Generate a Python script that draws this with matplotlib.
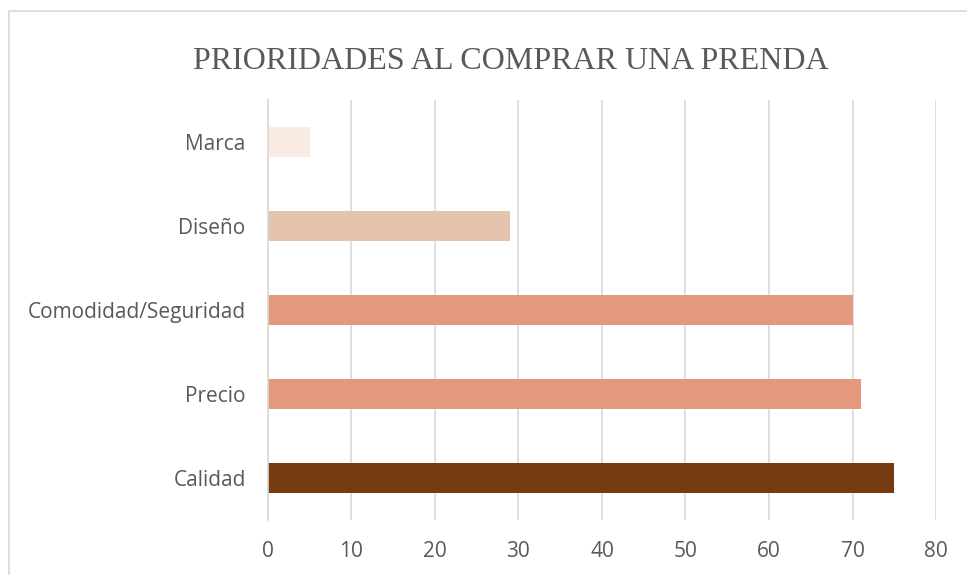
import matplotlib.pyplot as plt
from matplotlib.patches import Rectangle

# datos
categorias = ['Calidad', 'Precio', 'Comodidad/Seguridad', 'Diseño', 'Marca']
valores = [75, 71, 70, 29, 5]
colores = ['#773B11', '#E4987D', '#E4987D', '#E5C4AE', '#FBECE3']
ticks_x = [0, 10, 20, 30, 40, 50, 60, 70, 80]

gris_texto = '#595959'

fig = plt.figure(figsize=(9.67, 5.75), dpi=100)
ax = fig.add_axes([0.277, 0.0957, 0.691, 0.730])

ax.barh(range(len(categorias)), valores, height=0.36, color=colores, zorder=3)

ax.set_xlim(0, 80)
ax.set_ylim(-0.5, len(categorias) - 0.5)
ax.set_xticks(ticks_x)
ax.set_yticks(range(len(categorias)))
ax.set_yticklabels(categorias)

for lab in ax.get_xticklabels() + ax.get_yticklabels():
    lab.set_fontfamily('Open Sans')
    lab.set_fontsize(15)
    lab.set_color(gris_texto)

ax.tick_params(axis='both', length=0)
ax.tick_params(axis='x', pad=15)
ax.tick_params(axis='y', pad=16)
ax.grid(axis='x', color='#D9D9D9', linewidth=1.2, zorder=0)
for s in ['top', 'right', 'bottom']:
    ax.spines[s].set_visible(False)
ax.spines['left'].set_color('#D9D9D9')
ax.spines['left'].set_linewidth(1.2)
ax.spines['left'].set_zorder(4)

fig.text(0.528, 0.893, 'PRIORIDADES AL COMPRAR UNA PRENDA', ha='center', va='center',
         fontfamily='Liberation Serif', fontsize=23, color=gris_texto)

# borde del area del grafico
fig.patches.append(Rectangle((9 / 967, -0.02), 1.1, 1 - 11 / 575 + 0.02,
                             transform=fig.transFigure, fill=False,
                             edgecolor='#D9D9D9', linewidth=1.2))

fig.savefig('out.png', dpi=100)
